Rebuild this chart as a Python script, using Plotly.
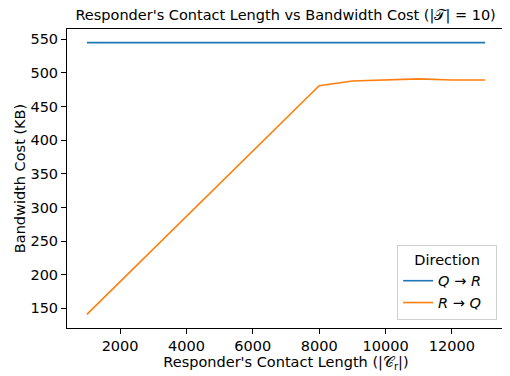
import plotly.graph_objects as go

contact_len = [1000, 8000, 9000, 10000, 11000, 12000, 13000]
q_to_r = [545, 545, 545, 545, 545, 545, 545]
r_to_q = [141, 481, 488, 490, 491, 489.5, 489.5]
x_ticks = [2000, 4000, 6000, 8000, 10000, 12000]
y_ticks = [150, 200, 250, 300, 350, 400, 450, 500, 550]

FONT = "DejaVu Sans"
TICK = 14.5

fig = go.Figure()
fig.add_trace(go.Scatter(x=contact_len, y=q_to_r, mode="lines",
                         name="<i>Q</i> → <i>R</i>  ",
                         line=dict(color="#1f77b4", width=1.6)))
fig.add_trace(go.Scatter(x=contact_len, y=r_to_q, mode="lines",
                         name="<i>R</i> → <i>Q</i>  ",
                         line=dict(color="#ff7f0e", width=1.6)))

axis_common = dict(showgrid=False, zeroline=False, showline=True, mirror=True,
                   linecolor="black", linewidth=1, ticks="outside", ticklen=5,
                   tickcolor="black", tickfont=dict(family=FONT, size=TICK, color="black"))

fig.update_layout(
    width=502, height=368,
    margin=dict(l=59, r=5, t=21, b=48),
    paper_bgcolor="white", plot_bgcolor="white",
    font=dict(family=FONT, size=TICK, color="black"),
    title=dict(text="Responder's Contact Length vs Bandwidth Cost (|𝒯| = 10)",
               x=0.553, xanchor="center", y=0.981, yanchor="middle",
               font=dict(family=FONT, size=14.5, color="black")),
    xaxis=dict(range=[400, 13600], tickvals=x_ticks, ticktext=[str(v) for v in x_ticks],
               title=dict(text="Responder's Contact Length (|𝒞<sub>r</sub>|)", standoff=0,
                          font=dict(family=FONT, size=TICK)),
               automargin=False, **axis_common),
    yaxis=dict(range=[120.8, 565.2], tickvals=y_ticks, ticktext=[str(v) for v in y_ticks],
               title=dict(text="Bandwidth Cost (KB)", standoff=1,
                          font=dict(family=FONT, size=TICK)),
               automargin=False, **axis_common),
    showlegend=True,
    legend=dict(x=0.982, y=0.027, xanchor="right", yanchor="bottom",
                bgcolor="white", bordercolor="#d0d0d0", borderwidth=1,
                title=dict(text="Direction", side="top center",
                           font=dict(family=FONT, size=TICK)),
                font=dict(family=FONT, size=TICK), tracegroupgap=0),
)

fig.write_html("out.html")
